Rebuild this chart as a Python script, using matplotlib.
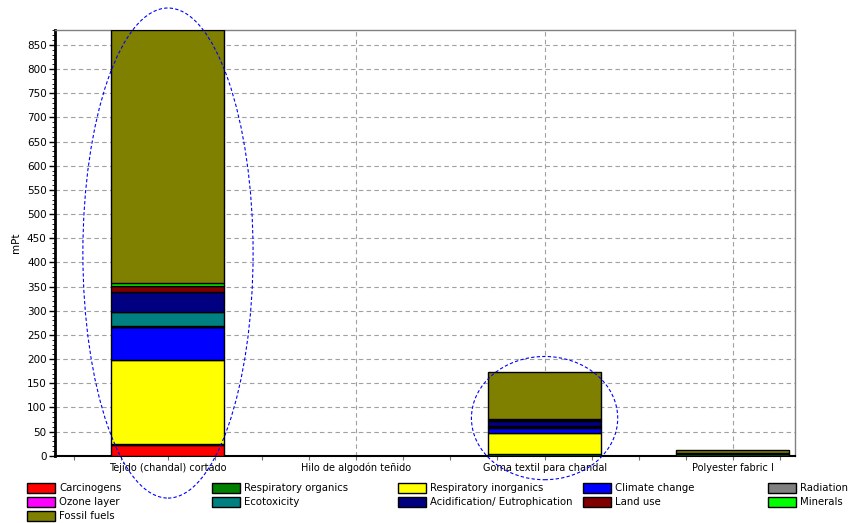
import matplotlib
matplotlib.use("Agg")
import matplotlib.pyplot as plt
import matplotlib.patches as patches
import numpy as np

products = [
    "Tejido (chandal) cortado",
    "Hilo de algodón teñido",
    "Goma textil para chandal",
    "Polyester fabric I",
]

categories = [
    "Carcinogens", "Respiratory organics", "Respiratory inorganics",
    "Climate change", "Radiation", "Ozone layer", "Ecotoxicity",
    "Acidification/ Eutrophication", "Land use", "Minerals", "Fossil fuels",
]

colors = [
    "#ff0000", "#008000", "#ffff00", "#0000ff", "#808080", "#ff00ff",
    "#008080", "#000080", "#800000", "#00ff00", "#808000",
]

# mPt per impact category, one list per product
tejido = [22, 3, 173, 68, 0.5, 2, 28, 43, 12, 5, 525]
hilo = [0, 0, 0, 0, 0, 0, 0, 0, 0, 0, 0]
goma = [0.5, 3, 44, 11, 0.2, 1.5, 2, 10, 1, 2, 98]
polyester = [0.2, 4, 1, 0.5, 0, 0, 0.2, 0.3, 0, 0.1, 6]

values = np.array([tejido, hilo, goma, polyester]).T

W, H = 850, 523
fig = plt.figure(figsize=(W / 100, H / 100), dpi=100)
ax = fig.add_axes([55 / W, (H - 455.8) / H, 740 / W, (455.8 - 30) / H])

x = np.arange(len(products))
bottom = np.zeros(len(products))
for name, col, row in zip(categories, colors, values):
    ax.bar(x, row, 0.6, bottom=bottom, color=col, edgecolor="black",
           linewidth=1, zorder=3)
    bottom += row

ax.set_xlim(-0.6, 3.33)
ax.set_ylim(0, 881)
ax.set_yticks(np.arange(0, 851, 50))
ax.set_yticks(np.arange(0, 881, 10), minor=True)
ax.set_xticks(x)
ax.set_xticks(np.arange(-0.5, 3.33, 0.25), minor=True)
ax.set_xticklabels(products, fontsize=7)
ax.tick_params(axis="y", labelsize=7.5, length=4, width=1, pad=2)
ax.tick_params(axis="y", which="minor", length=2)
ax.tick_params(axis="x", which="both", length=3, width=0.8, color="#707070", pad=2)

ax.grid(True, which="major", color="#a0a0a0", linestyle=(0, (4, 3)),
        linewidth=0.8, zorder=0)
ax.set_axisbelow(True)

for side in ("top", "right"):
    ax.spines[side].set_color("#808080")
    ax.spines[side].set_linewidth(1)
ax.spines["left"].set_linewidth(2)
ax.spines["bottom"].set_linewidth(1.5)

ax.set_ylabel("mPt", fontsize=7.5, labelpad=4)

# highlight rings around the two main contributors
ax.add_patch(patches.Ellipse((0, 419.5), 0.904, 1014, fill=False,
                             edgecolor="blue", linestyle=(0, (3, 2)),
                             linewidth=0.8, clip_on=False, zorder=5))
ax.add_patch(patches.Ellipse((2.0, 78), 0.777, 255, fill=False,
                             edgecolor="blue", linestyle=(0, (3, 2)),
                             linewidth=0.8, clip_on=False, zorder=5))

# legend laid out in rows of five
col_x = [27, 212, 398, 583, 768]
row_y = [488, 502, 516]
for i, (name, col) in enumerate(zip(categories, colors)):
    r, c = divmod(i, 5)
    px, py = col_x[c], row_y[r]
    fig.add_artist(patches.Rectangle(
        (px / W, (H - py - 5) / H), 28 / W, 10 / H,
        facecolor=col, edgecolor="black", linewidth=1,
        transform=fig.transFigure))
    fig.text((px + 32) / W, (H - py) / H, name, fontsize=7.3,
             va="center", ha="left")

fig.savefig("out.png", dpi=100)
